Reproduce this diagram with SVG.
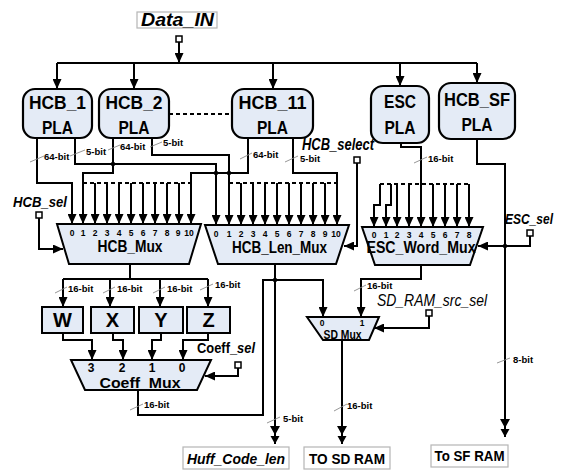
<svg xmlns="http://www.w3.org/2000/svg" width="564" height="471" viewBox="0 0 564 471">
<defs>
<marker id="a" markerUnits="userSpaceOnUse" markerWidth="10" markerHeight="9" refX="10" refY="4.5" orient="auto"><path d="M0,0 L10,4.5 L0,9 z" fill="#000"/></marker>
<marker id="a2" markerUnits="userSpaceOnUse" markerWidth="18" markerHeight="10" refX="18" refY="5" orient="auto"><path d="M0,0 L9,5 L0,10 z M10,0.5 L18,5 L10,9.5 z" fill="#000"/></marker>
</defs>
<style>
.w{stroke:#000;stroke-width:2;fill:none}
.ar{marker-end:url(#a)}
.ar2{marker-end:url(#a2)}
.d{stroke:#000;stroke-width:2;stroke-dasharray:4 3;fill:none}
.pla{fill:#e4ebf6;stroke:#000;stroke-width:2.2}
.mux{fill:#e4ebf6;stroke:#000;stroke-width:2}
.t{font-family:"Liberation Sans",Arial,sans-serif;font-weight:bold;fill:#000}
.it{font-style:italic}
.big{font-size:18px;text-anchor:middle}
.lbl{font-size:9.5px}
.num{font-size:8.5px;text-anchor:middle}
.tk{stroke:#8a8a8a;stroke-width:0.9}
.ob{fill:#fff;stroke:#b5b5b5;stroke-width:1.2}
.sq{fill:#fff;stroke:#000;stroke-width:1.5}
</style>

<g id="data_in">
<rect class="ob" x="137" y="12" width="80" height="16"/>
<text class="t it" x="141" y="26" font-size="19" textLength="73" lengthAdjust="spacingAndGlyphs">Data_IN</text>
<rect class="sq" x="176" y="36" width="6" height="6"/>
</g>

<g id="connectors">
<path class="w ar" d="M179,42 V63"/>
<path class="w" d="M57,63 H477"/>
<path class="w ar" d="M57,63 V89"/>
<path class="w ar" d="M134,63 V89"/>
<path class="w ar" d="M273,63 V89"/>
<path class="w ar" d="M400,63 V86"/>
<path class="w ar" d="M477,63 V83"/>
<path class="d" d="M169,114 H232"/>
<path class="w ar" d="M37,138 V183 H72 V224"/>
<path class="w ar" d="M75,138 V164 H216 V225"/>
<path class="w ar" d="M113,138 V173 H83 V224"/>
<path class="w ar" d="M152,138 V155 H229 V225"/>
<path class="w ar" d="M248,138 V173 H191 V224"/>
<path class="w ar" d="M293,138 V173 H337 V225"/>
<circle cx="113" cy="164" r="2.2"/>
<circle cx="216" cy="173" r="2.2"/>
<circle cx="229" cy="173" r="2.2"/>
<path class="d" d="M83,183 H191"/>
<path class="w ar" d="M95,183 V224"/>
<path class="w ar" d="M107,183 V224"/>
<path class="w ar" d="M119,183 V224"/>
<path class="w ar" d="M131,183 V224"/>
<path class="w ar" d="M143,183 V224"/>
<path class="w ar" d="M155,183 V224"/>
<path class="w ar" d="M167,183 V224"/>
<path class="w ar" d="M179,183 V224"/>
<path class="d" d="M229,183 H337"/>
<path class="w ar" d="M241,183 V225"/>
<path class="w ar" d="M253,183 V225"/>
<path class="w ar" d="M265,183 V225"/>
<path class="w ar" d="M277,183 V225"/>
<path class="w ar" d="M289,183 V225"/>
<path class="w ar" d="M301,183 V225"/>
<path class="w ar" d="M313,183 V225"/>
<path class="w ar" d="M325,183 V225"/>
<path class="w" d="M401,143 V147 H421 V184"/>
<path class="d" d="M380,184 H469"/>
<path class="w ar" d="M380,184 V205 H374 V227"/>
<path class="w ar" d="M391,184 V205 H386 V227"/>
<path class="w ar" d="M397,184 V227"/>
<path class="w ar" d="M409,184 V227"/>
<path class="w ar" d="M421,184 V227"/>
<path class="w ar" d="M433,184 V227"/>
<path class="w ar" d="M445,184 V227"/>
<path class="w ar" d="M457,184 V227"/>
<path class="w ar" d="M469,184 V227"/>
<path class="w ar2" d="M477,139 V164 H505 V437"/>
<path class="w ar" d="M39,218 V249 H63"/>
<path class="w ar" d="M357,163 V246 H344"/>
<path class="w ar" d="M530,236 V246 H478"/>
<circle cx="505" cy="246" r="2.2"/>
<path class="w" d="M130,264 V279"/>
<path class="w" d="M63,279 H208"/>
<path class="w ar" d="M63,279 V307"/>
<path class="w ar" d="M110,279 V307"/>
<path class="w ar" d="M160,279 V307"/>
<path class="w ar" d="M208,279 V307"/>
<path class="w ar" d="M63,333 V340 H92 V360"/>
<path class="w ar" d="M113,333 V340 H123 V360"/>
<path class="w ar" d="M161,333 V340 H152 V360"/>
<path class="w ar" d="M208,333 V340 H183 V360"/>
<path class="w ar" d="M238,368 V376 H205"/>
<path class="w ar" d="M138,390 V415 H263 V280 H323 V317"/>
<path class="w ar2" d="M275,264 V444"/>
<circle cx="275" cy="280" r="2.2"/>
<path class="w ar" d="M421,265 V279 H361 V317"/>
<path class="w ar" d="M429,316 V328 H374"/>
<path class="w ar2" d="M342,340 V444"/>
<path class="tk" d="M30,162 L44,156 M70,156 L85,150 M108,150 L120,145 M150,147 L162,142 M240,159 L252,153 M285,162 L298,156 M414,163 L427,157 M55,293 L67,287 M103,293 L115,287 M153,293 L165,287 M200,290 L213,284 M354,291 L366,285 M130,410 L143,404 M267,423 L280,417 M334,411 L347,404 M497,363 L510,358"/>
</g>

<g id="bit_labels" class="t lbl">
<text x="44" y="160">64-bit</text>
<text x="86" y="155">5-bit</text>
<text x="120" y="150">64-bit</text>
<text x="163" y="146">5-bit</text>
<text x="253" y="158">64-bit</text>
<text x="300" y="162">5-bit</text>
<text x="428" y="162">16-bit</text>
<text x="68" y="292">16-bit</text>
<text x="117" y="292">16-bit</text>
<text x="167" y="292">16-bit</text>
<text x="215" y="288">16-bit</text>
<text x="367" y="289">16-bit</text>
<text x="144" y="408">16-bit</text>
<text x="283" y="422">5-bit</text>
<text x="347" y="409">16-bit</text>
<text x="513" y="363">8-bit</text>
</g>

<g id="hcb1">
<rect class="pla" x="23" y="89" width="69" height="49" rx="12"/>
<text class="t big" x="57.5" y="109" textLength="57" lengthAdjust="spacingAndGlyphs">HCB_1</text>
<text class="t big" x="57.5" y="134" textLength="31" lengthAdjust="spacingAndGlyphs">PLA</text>
</g>
<g id="hcb2">
<rect class="pla" x="99" y="89" width="70" height="49" rx="12"/>
<text class="t big" x="134" y="109" textLength="57" lengthAdjust="spacingAndGlyphs">HCB_2</text>
<text class="t big" x="134" y="134" textLength="31" lengthAdjust="spacingAndGlyphs">PLA</text>
</g>
<g id="hcb11">
<rect class="pla" x="232" y="89" width="81" height="49" rx="12"/>
<text class="t big" x="272.5" y="109" textLength="68" lengthAdjust="spacingAndGlyphs">HCB_11</text>
<text class="t big" x="272.5" y="134" textLength="31" lengthAdjust="spacingAndGlyphs">PLA</text>
</g>
<g id="esc">
<rect class="pla" x="371" y="86" width="58" height="57" rx="12"/>
<text class="t big" x="400" y="108" textLength="32" lengthAdjust="spacingAndGlyphs">ESC</text>
<text class="t big" x="400" y="134" textLength="31" lengthAdjust="spacingAndGlyphs">PLA</text>
</g>
<g id="hcbsf">
<rect class="pla" x="439" y="83" width="76" height="56" rx="12"/>
<text class="t big" x="477" y="106" textLength="66" lengthAdjust="spacingAndGlyphs">HCB_SF</text>
<text class="t big" x="477" y="131" textLength="31" lengthAdjust="spacingAndGlyphs">PLA</text>
</g>

<g id="hcb_mux">
<polygon class="mux" points="57,224 201,224 189,264 69,264"/>
<g class="t num">
<text x="72" y="236">0</text><text x="83" y="236">1</text><text x="95" y="236">2</text><text x="107" y="236">3</text><text x="119" y="236">4</text><text x="131" y="236">5</text><text x="143" y="236">6</text><text x="155" y="236">7</text><text x="167" y="236">8</text><text x="178" y="236">9</text><text x="189" y="236">10</text>
</g>
<text class="t" x="130" y="252" font-size="16" text-anchor="middle" textLength="65" lengthAdjust="spacingAndGlyphs">HCB_Mux</text>
</g>

<g id="hcb_len_mux">
<polygon class="mux" points="205,225 349,225 336,264 218,264"/>
<g class="t num">
<text x="216" y="237">0</text><text x="229" y="237">1</text><text x="241" y="237">2</text><text x="253" y="237">3</text><text x="265" y="237">4</text><text x="277" y="237">5</text><text x="289" y="237">6</text><text x="301" y="237">7</text><text x="313" y="237">8</text><text x="325" y="237">9</text><text x="336" y="237">10</text>
</g>
<text class="t" x="279.5" y="253" font-size="16" text-anchor="middle" textLength="95" lengthAdjust="spacingAndGlyphs">HCB_Len_Mux</text>
</g>

<g id="esc_word_mux">
<polygon class="mux" points="362,227 483,227 470,265 375,265"/>
<g class="t num">
<text x="374" y="238">0</text><text x="386" y="238">1</text><text x="397" y="238">2</text><text x="409" y="238">3</text><text x="421" y="238">4</text><text x="433" y="238">5</text><text x="445" y="238">6</text><text x="457" y="238">7</text><text x="469" y="238">8</text>
</g>
<text class="t" x="421" y="253" font-size="16" text-anchor="middle" textLength="109" lengthAdjust="spacingAndGlyphs">ESC_Word_Mux</text>
</g>

<g id="sel_labels" class="t it">
<text x="13" y="207" font-size="15" textLength="54" lengthAdjust="spacingAndGlyphs">HCB_sel</text>
<rect class="sq" x="36" y="212" width="6" height="6"/>
<text x="302" y="150" font-size="16" textLength="72" lengthAdjust="spacingAndGlyphs">HCB_select</text>
<rect class="sq" x="354" y="157" width="6" height="6"/>
<text x="505" y="224" font-size="15" textLength="48" lengthAdjust="spacingAndGlyphs">ESC_sel</text>
<rect class="sq" x="527" y="230" width="6" height="6"/>
</g>

<g id="w"><rect class="mux" x="42" y="307" width="41" height="26"/><text class="t" x="62.5" y="327" font-size="20" text-anchor="middle">W</text></g>
<g id="x"><rect class="mux" x="91" y="307" width="43" height="26"/><text class="t" x="112.5" y="327" font-size="20" text-anchor="middle">X</text></g>
<g id="y"><rect class="mux" x="139" y="307" width="44" height="26"/><text class="t" x="161" y="327" font-size="20" text-anchor="middle">Y</text></g>
<g id="z"><rect class="mux" x="187" y="307" width="43" height="26"/><text class="t" x="208.5" y="327" font-size="20" text-anchor="middle">Z</text></g>

<g id="coeff_mux">
<polygon class="mux" points="71,360 211,360 197,390 85,390"/>
<g class="t" font-size="12" text-anchor="middle">
<text x="91" y="372">3</text><text x="122" y="372">2</text><text x="152" y="372">1</text><text x="182" y="372">0</text>
</g>
<text class="t" x="140" y="388" font-size="14" text-anchor="middle" textLength="81" lengthAdjust="spacingAndGlyphs">Coeff_Mux</text>
<text class="t" x="197" y="353" font-size="14" textLength="58" lengthAdjust="spacingAndGlyphs">Coeff_<tspan font-style="italic">sel</tspan></text>
<rect class="sq" x="235" y="362" width="6" height="6"/>
</g>

<g id="sd_mux">
<polygon class="mux" points="307,317 379,317 369,340 323,340"/>
<text class="t" x="322" y="326" font-size="8.5" text-anchor="middle">0</text>
<text class="t" x="362" y="326" font-size="8.5" text-anchor="middle">1</text>
<text class="t" x="342.5" y="339" font-size="12" text-anchor="middle" textLength="38" lengthAdjust="spacingAndGlyphs">SD Mux</text>
<text class="it" x="377" y="306" font-size="16" font-family="Liberation Sans, Arial, sans-serif" textLength="110" lengthAdjust="spacingAndGlyphs">SD_RAM_src_sel</text>
<rect class="sq" x="426" y="310" width="6" height="6"/>
</g>

<g id="huff_code_len">
<rect class="ob" x="183" y="447" width="106" height="22"/>
<text class="t it" x="236" y="464" font-size="15" text-anchor="middle" textLength="98" lengthAdjust="spacingAndGlyphs">Huff_Code_len</text>
</g>
<g id="to_sd_ram">
<rect class="ob" x="304" y="447" width="86" height="22"/>
<text class="t" x="347" y="464" font-size="15" text-anchor="middle" textLength="76" lengthAdjust="spacingAndGlyphs">TO SD RAM</text>
</g>
<g id="to_sf_ram">
<rect class="ob" x="431" y="445" width="77" height="22"/>
<text class="t" x="469.5" y="461" font-size="15" text-anchor="middle" textLength="70" lengthAdjust="spacingAndGlyphs">To SF RAM</text>
</g>
</svg>
